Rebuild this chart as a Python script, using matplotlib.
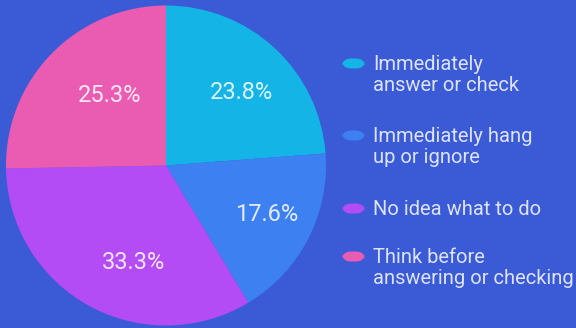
import matplotlib
matplotlib.use("Agg")
import numpy as np
import matplotlib.pyplot as plt
from matplotlib.patches import FancyBboxPatch

# Survey responses: what people do when an unknown number calls
categories = [
    "Immediately\nanswer or check",
    "Immediately hang\nup or ignore",
    "No idea what to do",
    "Think before\nanswering or checking",
]
shares = [23.8, 17.6, 33.3, 25.3]
colors = ["#14b4e6", "#3d80f2", "#b44cf6", "#e95cb2"]

BG = "#3a5ad6"
W, H = 576, 328

plt.rcParams["font.family"] = ["Roboto", "DejaVu Sans"]

fig = plt.figure(figsize=(W / 100, H / 100), dpi=100, facecolor=BG)

# Pie axes: square area on the left side of the figure
cx, cy, r = 166, 165.5, 160
ax = fig.add_axes([(cx - r) / W, (H - cy - r) / H, 2 * r / W, 2 * r / H])
ax.set_facecolor(BG)
wedges, _, autotexts = ax.pie(
    shares,
    colors=colors,
    startangle=90,
    counterclock=False,
    radius=1.0,
    autopct=lambda p: f"{p:.1f}%",
    pctdistance=0.66,
    wedgeprops=dict(linewidth=0),
    textprops=dict(color="white", alpha=0.85, fontsize=17),
)

# Percentage labels sit a little toward the right of each wedge's centre line
label_nudge = [(0.026, -0.025), (0.042, -0.005), (0.117, -0.032), (0.121, -0.023)]
for t, (dx, dy) in zip(autotexts, label_nudge):
    x, y = t.get_position()
    t.set_position((x + dx, y + dy))

ax.set_xlim(-1, 1)
ax.set_ylim(-1, 1)
ax.set_aspect("equal")
ax.axis("off")

# Legend drawn on the figure: rounded colour pills with wrapped labels
baselines = [70, 142, 215, 263]
line_h = 21
pill_x, pill_w, pill_h = 342, 23, 10
text_x = 373
for label, col, b in zip(categories, colors, baselines):
    pc = b - 6.5
    pill = FancyBboxPatch(
        (pill_x / W, (H - pc - pill_h / 2) / H),
        pill_w / W, pill_h / H,
        boxstyle=f"round,pad=0,rounding_size={pill_h / 2 / H}",
        transform=fig.transFigure, facecolor=col, edgecolor="none",
        mutation_aspect=W / H,
    )
    fig.patches.append(pill)
    for i, line in enumerate(label.split("\n")):
        fig.text(text_x / W, (H - (b + i * line_h)) / H, line,
                 color="#dde3fb", fontsize=14.5, va="baseline", ha="left")

fig.savefig("out.png", dpi=100, facecolor=BG)
